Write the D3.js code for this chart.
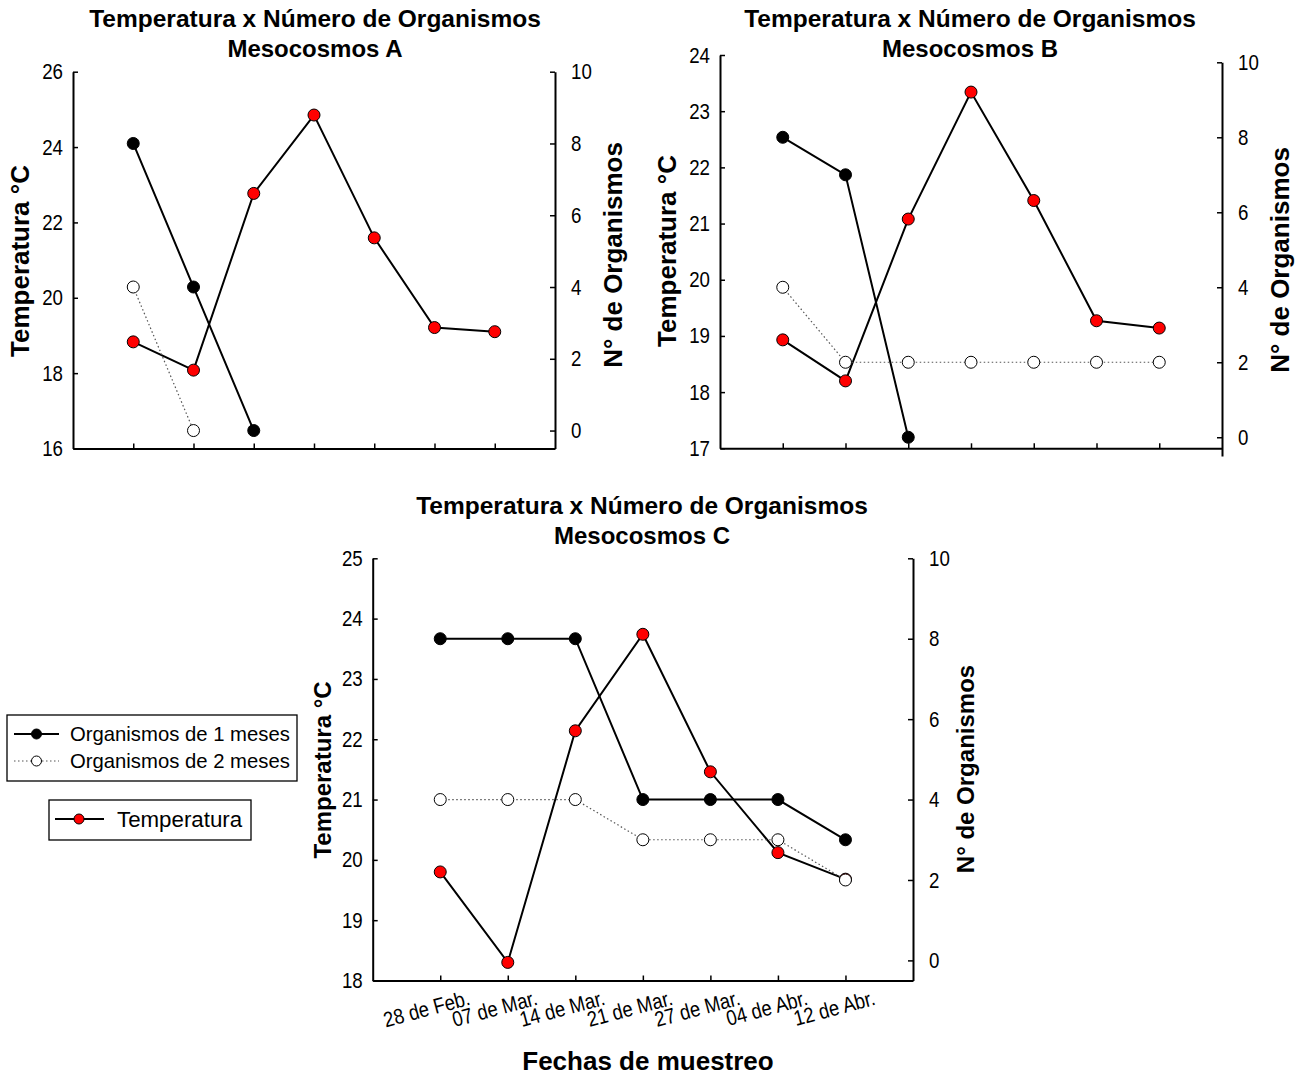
<!DOCTYPE html>
<html>
<head>
<meta charset="utf-8">
<script src="https://cdn.jsdelivr.net/npm/d3@7"></script>
<style>
  html, body { margin: 0; padding: 0; background: #fff; }
  svg { display: block; font-family: "Liberation Sans", Arial, sans-serif; }
</style>
</head>
<body>
<svg id="chart" width="1308" height="1078"></svg>
<script>
// ── Data ────────────────────────────────────────────────────────────────────
const fechas = ['28 de Feb.', '07 de Mar.', '14 de Mar.', '21 de Mar.', '27 de Mar.', '04 de Abr.', '12 de Abr.'];

const tempA = [18.83, 18.08, 22.77, 24.85, 21.59, 19.21, 19.10];
const org1A = [8, 4, 0];
const org2A = [4, 0];

const tempB = [18.93, 18.20, 21.08, 23.34, 21.41, 19.27, 19.14];
const org1B = [8, 7, 0];
const org2B = [4, 2, 2, 2, 2, 2, 2];

const tempC = [19.80, 18.30, 22.14, 23.74, 21.46, 20.12, 19.68];
const org1C = [8, 8, 8, 4, 4, 4, 3];
const org2C = [4, 4, 4, 3, 3, 3, 2];

const ticksTempA = [16, 18, 20, 22, 24, 26];
const ticksTempB = [17, 18, 19, 20, 21, 22, 23, 24];
const ticksTempC = [18, 19, 20, 21, 22, 23, 24, 25];
const ticksOrg = [0, 2, 4, 6, 8, 10];

const legendItems = ['Organismos de 1 meses', 'Organismos de 2 meses'];
const legendTemp = 'Temperatura';

const TITLE = 'Temperatura x Número de Organismos';
const RED = '#ff0000';
const fmt = d3.format('d');

const svg = d3.select('#chart');

// narrow the glyphs a bit (the original uses a condensed face)
function squeeze(sel, k) {
  sel.each(function() {
    const w = this.getComputedTextLength();
    d3.select(this).attr('textLength', w * k).attr('lengthAdjust', 'spacingAndGlyphs');
  });
}

// ── One panel ───────────────────────────────────────────────────────────────
function drawPanel(p) {
  const g = svg.append('g');

  const x = d3.scalePoint().domain(fechas).range([p.left, p.right]).padding(1);
  const yT = d3.scaleLinear().domain(p.tDomain).range([p.bottom, p.top]);
  const yN = d3.scaleLinear().domain(p.nDomain).range([p.nBottom, p.nTop]);

  // titles
  g.append('text').attr('x', p.cx).attr('y', p.titleY)
    .attr('text-anchor', 'middle').attr('font-size', 24.5).attr('font-weight', 'bold')
    .text(TITLE);
  g.append('text').attr('x', p.cx).attr('y', p.titleY + 30)
    .attr('text-anchor', 'middle').attr('font-size', 24).attr('font-weight', 'bold')
    .text('Mesocosmos ' + p.name);

  // x axis
  const xAx = g.append('g').attr('transform', `translate(0,${p.bottom})`)
    .call(d3.axisBottom(x).tickSize(-5).tickSizeOuter(0).tickFormat(''));

  if (p.labels) {
    const lab = g.selectAll(null).data(fechas).enter().append('text')
      .attr('transform', f => `translate(${x(f) + 31},${p.bottom + 24}) rotate(-15)`)
      .attr('text-anchor', 'end').attr('font-size', 21.5)
      .text(f => f);
    squeeze(lab, 0.86);
  }

  // left axis
  const yAx = g.append('g').attr('transform', `translate(${p.left},0)`)
    .call(d3.axisLeft(yT).tickValues(p.tTicks).tickFormat(fmt)
      .tickSize(-5).tickSizeOuter(0).tickPadding(10));
  // right axis
  const nAx = g.append('g').attr('transform', `translate(${p.right},0)`)
    .call(d3.axisRight(yN).tickValues(ticksOrg).tickFormat(fmt)
      .tickSize(-5).tickSizeOuter(0).tickPadding(16));

  [xAx, yAx, nAx].forEach(a => {
    a.select('.domain').attr('stroke', '#000').attr('stroke-width', 2);
    a.selectAll('.tick line').attr('stroke', '#000').attr('stroke-width', 1.5);
    a.selectAll('.tick text').attr('font-size', 22).attr('fill', '#000')
      .attr('font-family', '"Liberation Sans", Arial, sans-serif');
  });
  squeeze(yAx.selectAll('.tick text'), 0.85);
  squeeze(nAx.selectAll('.tick text'), 0.85);

  // axis titles
  g.append('text').attr('transform', `translate(${p.ltX},${p.ltY}) rotate(-90)`)
    .attr('text-anchor', 'middle').attr('font-size', p.atSize).attr('font-weight', 'bold')
    .text('Temperatura °C');
  g.append('text').attr('transform', `translate(${p.rtX},${p.rtY}) rotate(-90)`)
    .attr('text-anchor', 'middle').attr('font-size', p.atSize).attr('font-weight', 'bold')
    .text('N° de Organismos');

  // series
  const series = [
    { vals: p.temp, y: yT, fill: RED, dash: null, w: 2, stroke: '#000' },
    { vals: p.org1, y: yN, fill: '#000', dash: null, w: 2, stroke: '#000' },
    { vals: p.org2, y: yN, fill: '#fff', dash: '1.5,2.5', w: 1.2, stroke: '#555' }
  ];
  series.forEach(s => {
    const pts = s.vals.map((v, i) => [x(fechas[i]), s.y(v)]);
    g.append('path').attr('d', d3.line()(pts))
      .attr('fill', 'none').attr('stroke', s.stroke).attr('stroke-width', s.w)
      .attr('stroke-dasharray', s.dash);
    g.selectAll(null).data(pts).enter().append('circle')
      .attr('cx', d => d[0]).attr('cy', d => d[1]).attr('r', 6)
      .attr('fill', s.fill).attr('stroke', '#000').attr('stroke-width', 1);
  });
}

drawPanel({
  name: 'A', temp: tempA, org1: org1A, org2: org2A,
  left: 73, right: 555, top: 71.7, bottom: 448.5,
  tDomain: [16, 26], tTicks: ticksTempA,
  nDomain: [-0.5, 10], nBottom: 448.5, nTop: 71.7,
  cx: 315, titleY: 27,
  ltX: 29, ltY: 261, rtX: 622, rtY: 255, atSize: 26
});

drawPanel({
  name: 'B', temp: tempB, org1: org1B, org2: org2B,
  left: 720, right: 1222, top: 55, bottom: 448.3,
  tDomain: [17, 24], tTicks: ticksTempB,
  nDomain: [-0.5, 10], nBottom: 456, nTop: 62.3,
  cx: 970, titleY: 27,
  ltX: 676, ltY: 251, rtX: 1289, rtY: 260, atSize: 26
});

drawPanel({
  name: 'C', temp: tempC, org1: org1C, org2: org2C,
  left: 372.7, right: 913, top: 558.3, bottom: 980.5,
  tDomain: [18, 25], tTicks: ticksTempC,
  nDomain: [-0.5, 10], nBottom: 980.5, nTop: 558.3,
  cx: 642, titleY: 514, labels: true,
  ltX: 331, ltY: 770, rtX: 974, rtY: 769, atSize: 24
});

// x title
svg.append('text').attr('x', 648).attr('y', 1070)
  .attr('text-anchor', 'middle').attr('font-size', 26).attr('font-weight', 'bold')
  .text('Fechas de muestreo');

// ── Legends ─────────────────────────────────────────────────────────────────
const leg = svg.append('g');
leg.append('rect').attr('x', 7).attr('y', 715).attr('width', 290).attr('height', 66)
  .attr('fill', '#fff').attr('stroke', '#000').attr('stroke-width', 1.3);
legendItems.forEach((t, i) => {
  const y = 734 + i * 27;
  leg.append('line').attr('x1', 14).attr('x2', 59).attr('y1', y).attr('y2', y)
    .attr('stroke', i ? '#555' : '#000').attr('stroke-width', i ? 1.2 : 2)
    .attr('stroke-dasharray', i ? '1.5,2.5' : null);
  leg.append('circle').attr('cx', 36.5).attr('cy', y).attr('r', 5)
    .attr('fill', i ? '#fff' : '#000').attr('stroke', '#000');
  leg.append('text').attr('x', 70).attr('y', y + 7).attr('font-size', 20.3).text(t);
});

leg.append('rect').attr('x', 49).attr('y', 800).attr('width', 202).attr('height', 40)
  .attr('fill', '#fff').attr('stroke', '#000').attr('stroke-width', 1.3);
leg.append('line').attr('x1', 55).attr('x2', 104).attr('y1', 819).attr('y2', 819)
  .attr('stroke', '#000').attr('stroke-width', 2);
leg.append('circle').attr('cx', 79).attr('cy', 819).attr('r', 5)
  .attr('fill', RED).attr('stroke', '#000');
leg.append('text').attr('x', 117).attr('y', 827).attr('font-size', 22.3).text(legendTemp);
</script>
</body>
</html>
